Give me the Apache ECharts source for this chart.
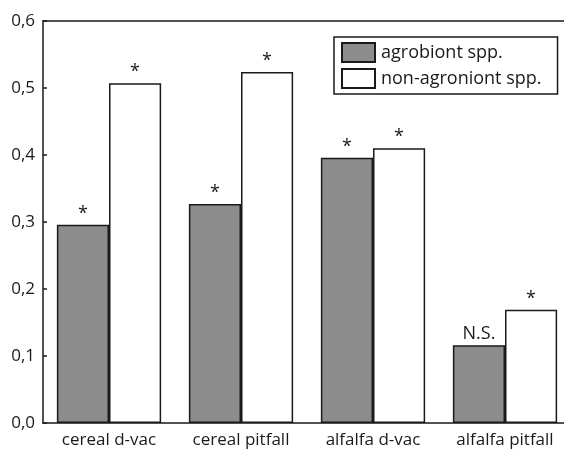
<!DOCTYPE html>
<html>
<head>
<meta charset="utf-8">
<script src="https://cdn.jsdelivr.net/npm/echarts@6/dist/echarts.min.js"></script>
<style>
  html, body { margin: 0; padding: 0; background: #fff; }
  #chart { width: 564px; height: 452px; }
</style>
</head>
<body>
<div id="chart"></div>
<script>
var categories = ["cereal d-vac", "cereal pitfall", "alfalfa d-vac", "alfalfa pitfall"];
var agrobiont = [0.296, 0.327, 0.396, 0.116];
var nonAgrobiont = [0.507, 0.524, 0.410, 0.169];
var agroMarks = ["*", "*", "*", "N.S."];
var nonAgroMarks = ["*", "*", "*", "*"];
var yTicks = [0, 0.1, 0.2, 0.3, 0.4, 0.5, 0.6];

var font = "Open Sans";
var ink = "#1a1a1a";

function markLabel(marks) {
  return {
    show: true,
    position: "top",
    distance: 2,
    color: ink,
    fontFamily: font,
    fontSize: 18,
    formatter: function (p) { return marks[p.dataIndex]; }
  };
}

var chart = echarts.init(document.getElementById("chart"));
chart.setOption({
  backgroundColor: "#fff",
  animation: false,
  grid: { left: 43, width: 528, top: 21, height: 402, outerBoundsMode: "none", containLabel: false },
  legend: {
    orient: "vertical",
    left: 334,
    top: 37,
    padding: [5, 16, 5, 7],
    itemWidth: 33,
    itemHeight: 19,
    itemGap: 5,
    borderColor: ink,
    borderWidth: 1.5,
    borderRadius: 0,
    icon: "rect",
    textStyle: { fontFamily: font, fontSize: 18, color: ink, padding: [0, 0, 0, 1] }
  },
  xAxis: [
    {
      type: "category",
      data: categories,
      position: "bottom",
      axisLine: { lineStyle: { color: ink, width: 1.5 } },
      axisTick: { inside: true, length: 4, lineStyle: { color: ink, width: 1.5 } },
      axisLabel: { fontFamily: font, fontSize: 17, color: ink, margin: 9 },
      splitLine: { show: false }
    },
    {
      type: "category",
      data: categories,
      position: "top",
      axisLine: { lineStyle: { color: ink, width: 1.5 } },
      axisTick: { inside: true, length: 4, lineStyle: { color: ink, width: 1.5 } },
      axisLabel: { show: false },
      splitLine: { show: false }
    }
  ],
  yAxis: {
    type: "value",
    min: yTicks[0],
    max: yTicks[yTicks.length - 1],
    interval: 0.1,
    axisLine: { show: true, lineStyle: { color: ink, width: 1.5 } },
    axisTick: { show: true, inside: true, length: 4, lineStyle: { color: ink, width: 1.5 } },
    axisLabel: {
      fontFamily: font, fontSize: 17, color: ink, margin: 8,
      formatter: function (v) { return v.toFixed(1).replace(".", ","); }
    },
    splitLine: { show: false }
  },
  series: [
    {
      name: "agrobiont spp.",
      type: "bar",
      data: agrobiont,
      barGap: "0%",
      barCategoryGap: "21%",
      itemStyle: { color: "#8c8c8c", borderColor: ink, borderWidth: 1.5 },
      label: markLabel(agroMarks)
    },
    {
      name: "non-agroniont spp.",
      type: "bar",
      data: nonAgrobiont,
      barGap: "0%",
      barCategoryGap: "21%",
      itemStyle: { color: "#ffffff", borderColor: ink, borderWidth: 1.5 },
      label: markLabel(nonAgroMarks)
    }
  ]
});
</script>
</body>
</html>
